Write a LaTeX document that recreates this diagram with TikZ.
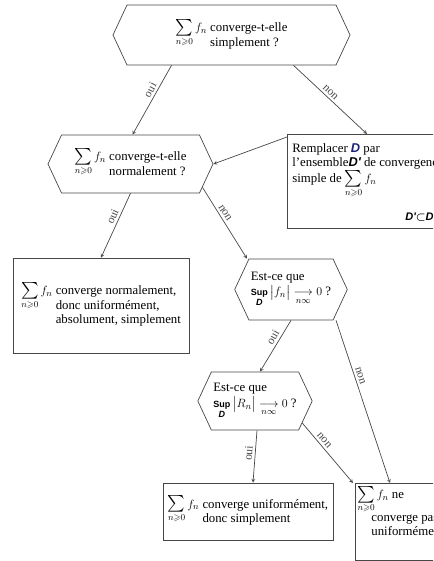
\documentclass[tikz,border=0pt]{standalone}
\usepackage{amsmath,amssymb}
\usepackage{fontspec}
\setmainfont{Liberation Serif}
\newfontfamily\dfont{Liberation Sans}
\usetikzlibrary{shapes.symbols,arrows}
\definecolor{navyd}{RGB}{25,35,120}
\definecolor{edge}{RGB}{70,70,75}
\newcommand{\sumfn}{$\mathop{\scalebox{1.3}{$\sum$}}\limits_{n\geqslant 0} f_n$}
\newcommand{\dsym}[1]{{\dfont\bfseries\itshape #1}}
\newcommand{\supD}{\mathop{\text{\dfont\bfseries\small Sup}}\limits_{\text{\dfont\bfseries\itshape\small D}}}
\begin{document}
\begin{tikzpicture}[x=1pt, y=-1pt, >=stealth, line width=0.7pt,
  every node/.style={font=\fontsize{12.8}{14.5}\selectfont},
  hexq/.style={draw=edge, signal, signal to=west and east, signal pointer angle=130, inner sep=2pt, align=left},
  rbox/.style={draw=edge, rectangle, inner sep=3pt, align=left},
  lbl/.style={font=\fontsize{11.5}{12}\selectfont, midway, sloped, above, inner sep=2.5pt}]
\useasboundingbox (0,0) rectangle (433,561);
\clip (0,0) rectangle (433,561);
% questions
\node[hexq, minimum width=237pt, minimum height=60pt] (q1) at (231.5,35) {\sumfn\ \begin{tabular}[t]{@{}l@{}}converge-t-elle\\simplement ?\end{tabular}};
\node[hexq, minimum width=165pt, minimum height=58pt] (q2) at (130.5,164) {\sumfn\ \begin{tabular}[t]{@{}l@{}}converge-t-elle\\normalement ?\end{tabular}};
\node[hexq, minimum width=112pt, minimum height=61pt] (q3) at (291,289.5) {Est-ce que\\[1pt] $\supD\,\bigl|f_n\bigr|\underset{n\infty}{\longrightarrow}0$ ?};
\node[hexq, minimum width=106pt, minimum height=58pt] (q4) at (255,401) {Est-ce que\\[1pt] $\supD\,\bigl|R_n\bigr|\underset{n\infty}{\longrightarrow}0$ ?};
% answers
\node[rbox, anchor=north west, minimum width=200pt, minimum height=94pt] (repl) at (287,134) {};
\node[anchor=north west, align=left, inner sep=0pt] (repltxt) at ([xshift=5pt, yshift=-9pt]repl.north west) {Remplacer \textcolor{navyd}{\dsym{D}} par\\ l'ensemble\dsym{D'} de convergence\\ simple de \sumfn};
\node[anchor=west, inner sep=0pt, font=\fontsize{11}{12}\selectfont] (incl) at (405,217) {\dsym{D'}$\boldsymbol{\subset}$\dsym{D}};
\node[rbox, minimum width=176pt, minimum height=95pt] (norm) at (101,305.5) {\sumfn\ \begin{tabular}[t]{@{}l@{}}converge normalement,\\donc uniformément,\\absolument, simplement\end{tabular}};
\node[rbox, minimum width=170pt, minimum height=57pt] (unif) at (248,511.5) {\sumfn\ \begin{tabular}[t]{@{}l@{}}converge uniformément,\\donc simplement\end{tabular}};
\node[rbox, anchor=north west, minimum width=110pt, minimum height=77pt] (nconv) at (355,483) {};
\node[anchor=north west, align=left, inner sep=0pt] (nconvtxt) at ([xshift=2pt, yshift=-3pt]nconv.north west) {\sumfn\ ne\\ \hspace*{1.1em}converge pas\\ \hspace*{1.1em}uniformément};
% links
\draw[->, edge] ([xshift=-60pt]q1.south) -- node[lbl, pos=0.4] {oui} ([xshift=2pt]q2.north);
\draw[->, edge] ([xshift=62pt]q1.south) -- node[lbl, pos=0.45] {non} ([xshift=80pt]repl.north west);
\draw[->, edge] ([yshift=-3pt]repl.north west) -- (q2.east);
\draw[->, edge] (q2.south) -- node[lbl, pos=0.4] {oui} (norm.north);
\draw[->, edge] (q2.-18) -- node[lbl, pos=0.4] {non} ([xshift=-44pt]q3.north);
\draw[->, edge] (q3.south) -- node[lbl, pos=0.4] {oui} ([xshift=5pt]q4.north);
\draw[->, edge] ([xshift=45pt]q3.south) -- node[lbl, pos=0.35] {non} ([xshift=35pt]nconv.north west);
\draw[->, edge] ([xshift=2pt]q4.south) -- node[lbl, pos=0.45] {oui} ([xshift=5pt]unif.north);
\draw[->, edge] (q4.-25) -- node[lbl, pos=0.35] {non} ([xshift=-2pt]nconv.north west);
\end{tikzpicture}
\end{document}
